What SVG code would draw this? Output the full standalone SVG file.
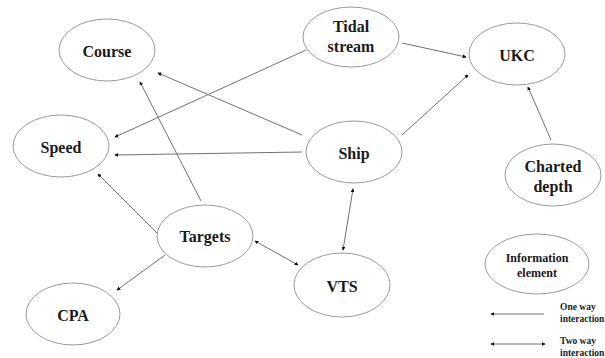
<svg xmlns="http://www.w3.org/2000/svg" width="605" height="358" viewBox="0 0 605 358">
<style>
.n ellipse{fill:#fff;stroke:#9a9a9a;stroke-width:1}
.n text{font-family:'Liberation Serif','Times New Roman','DejaVu Serif',serif;font-weight:bold;font-size:16px;fill:#1a1a1a;text-anchor:middle}
#conn line{stroke:#707070;stroke-width:1;fill:none}
.lg{font-family:'Liberation Serif','Times New Roman','DejaVu Serif',serif;font-weight:bold;font-size:9.5px;fill:#222}
</style>
<defs>
<marker id="a" viewBox="0 0 6 6" refX="5" refY="3" markerWidth="4" markerHeight="4" markerUnits="userSpaceOnUse" orient="auto-start-reverse">
<path d="M0,0 L6,3 L0,6 z" fill="#111"/>
</marker>
</defs>
<rect width="605" height="358" fill="#fff"/>
<g id="conn">
<line x1="306" y1="50" x2="115" y2="137" marker-end="url(#a)"/>
<line x1="302" y1="135" x2="158" y2="73" marker-end="url(#a)"/>
<line x1="302" y1="152" x2="115" y2="155" marker-end="url(#a)"/>
<line x1="201" y1="201" x2="140" y2="82" marker-end="url(#a)"/>
<line x1="157" y1="233" x2="98" y2="174" marker-end="url(#a)"/>
<line x1="165" y1="255" x2="117" y2="290" marker-end="url(#a)"/>
<line x1="255" y1="241" x2="298" y2="265" marker-start="url(#a)" marker-end="url(#a)"/>
<line x1="353" y1="189" x2="343" y2="250" marker-start="url(#a)" marker-end="url(#a)"/>
<line x1="402" y1="43" x2="466" y2="57" marker-end="url(#a)"/>
<line x1="402" y1="135" x2="468" y2="75" marker-end="url(#a)"/>
<line x1="551" y1="140" x2="528" y2="87" marker-end="url(#a)"/>
<line x1="544" y1="314" x2="491" y2="314" marker-end="url(#a)"/>
<line x1="491" y1="344" x2="545" y2="344" marker-start="url(#a)" marker-end="url(#a)"/>
</g>
<g id="course" class="n"><ellipse cx="107" cy="50" rx="48" ry="31"/><text x="107" y="57">Course</text></g>
<g id="speed" class="n"><ellipse cx="61" cy="146" rx="48" ry="31"/><text x="61" y="153">Speed</text></g>
<g id="tidal" class="n"><ellipse cx="351" cy="37" rx="48" ry="30"/><text x="351" y="32">Tidal</text><text x="351" y="52">stream</text></g>
<g id="ukc" class="n"><ellipse cx="517" cy="54" rx="48" ry="31"/><text x="517" y="61">UKC</text></g>
<g id="ship" class="n"><ellipse cx="354" cy="152" rx="48" ry="31"/><text x="354" y="159">Ship</text></g>
<g id="charted" class="n"><ellipse cx="553" cy="175" rx="48" ry="31"/><text x="553" y="172">Charted</text><text x="553" y="192">depth</text></g>
<g id="targets" class="n"><ellipse cx="205" cy="236" rx="48" ry="31"/><text x="205" y="242">Targets</text></g>
<g id="cpa" class="n"><ellipse cx="73" cy="314" rx="47" ry="31"/><text x="73" y="321">CPA</text></g>
<g id="vts" class="n"><ellipse cx="342" cy="285" rx="48" ry="32"/><text x="342" y="292">VTS</text></g>
<g id="legend" class="n"><ellipse cx="537" cy="264" rx="52" ry="30"/><text x="537" y="262" style="font-size:12px">Information</text><text x="537" y="277" style="font-size:12px">element</text></g>
<text class="lg" x="560" y="310">One way</text>
<text class="lg" x="560" y="322">interaction</text>
<text class="lg" x="560" y="344">Two way</text>
<text class="lg" x="560" y="356">interaction</text>
</svg>
